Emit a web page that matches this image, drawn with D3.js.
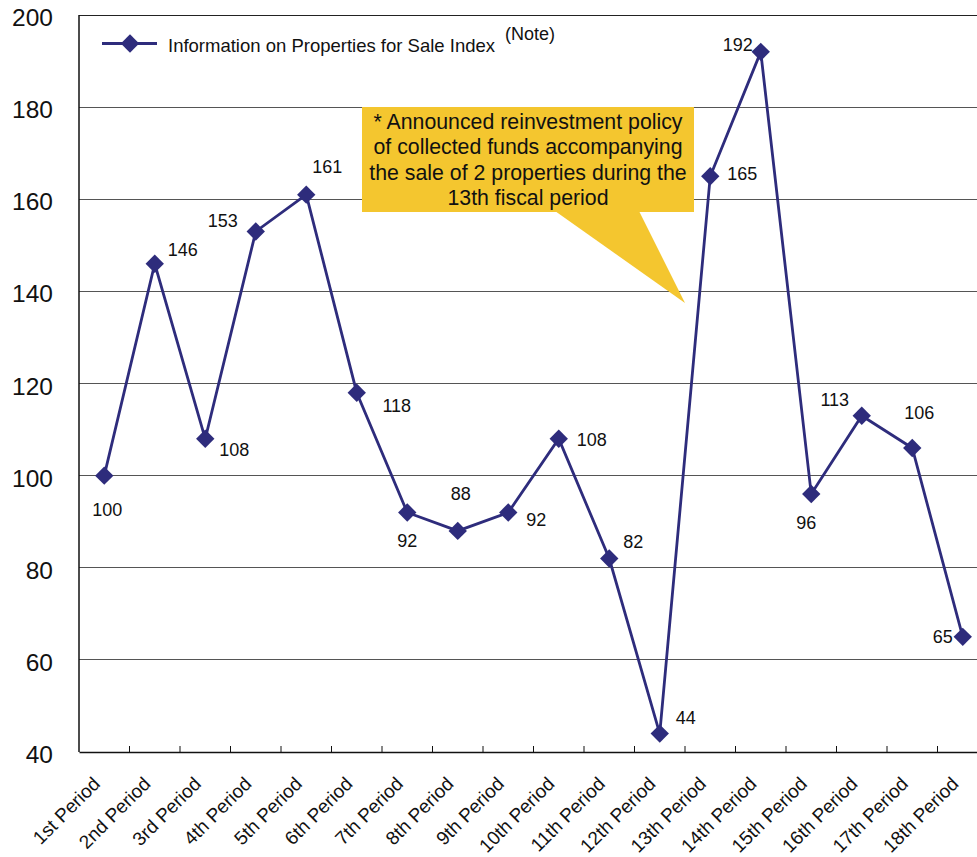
<!DOCTYPE html>
<html>
<head>
<meta charset="utf-8">
<script src="https://cdn.jsdelivr.net/npm/d3@7"></script>
<style>
  body { margin: 0; background: #fff; }
  svg { display: block; font-family: "Liberation Sans", Arial, sans-serif; }
</style>
</head>
<body>
<div id="chart"></div>
<script>
var periods = ["1st Period", "2nd Period", "3rd Period", "4th Period", "5th Period", "6th Period",
  "7th Period", "8th Period", "9th Period", "10th Period", "11th Period", "12th Period",
  "13th Period", "14th Period", "15th Period", "16th Period", "17th Period", "18th Period"];
var indexValues = [100, 146, 108, 153, 161, 118, 92, 88, 92, 108, 82, 44, 165, 192, 96, 113, 106, 65];
var yTicks = [40, 60, 80, 100, 120, 140, 160, 180, 200];
var legendText = "Information on Properties for Sale Index";
var noteText = "(Note)";
var calloutLines = ["* Announced reinvestment policy", "of collected funds accompanying",
  "the sale of 2 properties during the", "13th fiscal period"];

// where each value label sits relative to its marker
var labelOffsets = [[3, 34], [28, -14], [29, 11], [-33, -11], [21, -28], [40, 13],
  [0, 28], [3, -37], [28, 7], [33, 1], [24, -17], [26, -16],
  [32, -3], [-23, -7], [-5, 28], [-27, -16], [7, -35], [-10, 0]];

var width = 977, height = 857;
var margin = {left: 79, top: 15, bottom: 105};
var plotW = 909;

var svg = d3.select("#chart").append("svg")
  .attr("width", width).attr("height", height);

var x = d3.scaleBand().domain(periods).range([margin.left, margin.left + plotW]);
var y = d3.scaleLinear().domain([40, 200]).range([height - margin.bottom, margin.top]);

// grid
svg.append("g").selectAll("line")
  .data(yTicks.filter(function(d) { return d > 40; }))
  .enter().append("line")
    .attr("x1", margin.left).attr("x2", margin.left + plotW)
    .attr("y1", function(d) { return y(d); }).attr("y2", function(d) { return y(d); })
    .attr("stroke", function(d) { return d === 200 ? "#222" : "#555"; })
    .attr("stroke-width", 1)
    .attr("shape-rendering", "crispEdges");

// y axis labels
svg.append("g").selectAll("text")
  .data(yTicks).enter().append("text")
    .attr("x", 53).attr("y", function(d) { return y(d) + 11; })
    .attr("text-anchor", "end")
    .attr("font-size", 24.5)
    .attr("fill", "#111")
    .text(function(d) { return d; });

// left axis line
svg.append("line")
  .attr("x1", margin.left).attr("x2", margin.left)
  .attr("y1", y(200)).attr("y2", y(40))
  .attr("stroke", "#111").attr("stroke-width", 1.5);

// bottom axis
var xAxis = d3.axisBottom(x).tickSize(0).tickFormat("");
svg.append("g")
  .attr("transform", "translate(0," + y(40) + ")")
  .call(xAxis)
  .call(function(g) { g.select(".domain").attr("stroke", "#111").attr("stroke-width", 1.5); });

svg.append("g").selectAll("line")
  .data(periods.slice(1)).enter().append("line")
    .attr("x1", function(d) { return x(d); }).attr("x2", function(d) { return x(d); })
    .attr("y1", y(40)).attr("y2", y(40) - 6)
    .attr("stroke", "#111").attr("stroke-width", 1);

svg.append("g").selectAll("text")
  .data(periods).enter().append("text")
    .attr("transform", function(d) {
      return "translate(" + (x(d) + x.bandwidth() / 2 - 3) + "," + (y(40) + 33) + ") rotate(-45)";
    })
    .attr("text-anchor", "end")
    .attr("font-size", 19)
    .attr("fill", "#111")
    .text(function(d) { return d; });

// callout
var callout = svg.append("g");
callout.append("path")
  .attr("d", "M555,211 L639,211 L685,303 Z")
  .attr("fill", "#F4C62F");
callout.append("rect")
  .attr("x", 362).attr("y", 107).attr("width", 332).attr("height", 105)
  .attr("fill", "#F4C62F");
callout.selectAll("text")
  .data(calloutLines).enter().append("text")
    .attr("x", 528).attr("y", function(d, i) { return 128.5 + i * 25.5; })
    .attr("text-anchor", "middle")
    .attr("font-size", 21.3)
    .attr("fill", "#111")
    .text(function(d) { return d; });

// line
var navy = "#2E2C7C";
var line = d3.line()
  .x(function(d, i) { return x(periods[i]) + x.bandwidth() / 2; })
  .y(function(d) { return y(d); });

svg.append("path")
  .datum(indexValues)
  .attr("d", line)
  .attr("fill", "none")
  .attr("stroke", navy)
  .attr("stroke-width", 2.8);

var diamond = d3.symbol().type(d3.symbolDiamond2).size(215);
svg.append("g").selectAll("path")
  .data(indexValues).enter().append("path")
    .attr("transform", function(d, i) {
      return "translate(" + (x(periods[i]) + x.bandwidth() / 2) + "," + y(d) + ")";
    })
    .attr("d", diamond)
    .attr("fill", navy);

svg.append("g").selectAll("text")
  .data(indexValues).enter().append("text")
    .attr("x", function(d, i) { return x(periods[i]) + x.bandwidth() / 2 + labelOffsets[i][0]; })
    .attr("y", function(d, i) { return y(d) + labelOffsets[i][1]; })
    .attr("dy", "0.36em")
    .attr("text-anchor", function(d, i) { return i === 17 ? "end" : "middle"; })
    .attr("font-size", 18)
    .attr("fill", "#111")
    .text(function(d) { return d; });

// legend
var legend = svg.append("g");
legend.append("line")
  .attr("x1", 102).attr("x2", 157).attr("y1", 43.5).attr("y2", 43.5)
  .attr("stroke", navy).attr("stroke-width", 2.8);
legend.append("path")
  .attr("transform", "translate(130,43.5)")
  .attr("d", diamond)
  .attr("fill", navy);
legend.append("text")
  .attr("x", 168).attr("y", 51.5)
  .attr("font-size", 18.5).attr("fill", "#111")
  .text(legendText);
legend.append("text")
  .attr("x", 505).attr("y", 40)
  .attr("font-size", 18).attr("fill", "#111")
  .text(noteText);
</script>
</body>
</html>
